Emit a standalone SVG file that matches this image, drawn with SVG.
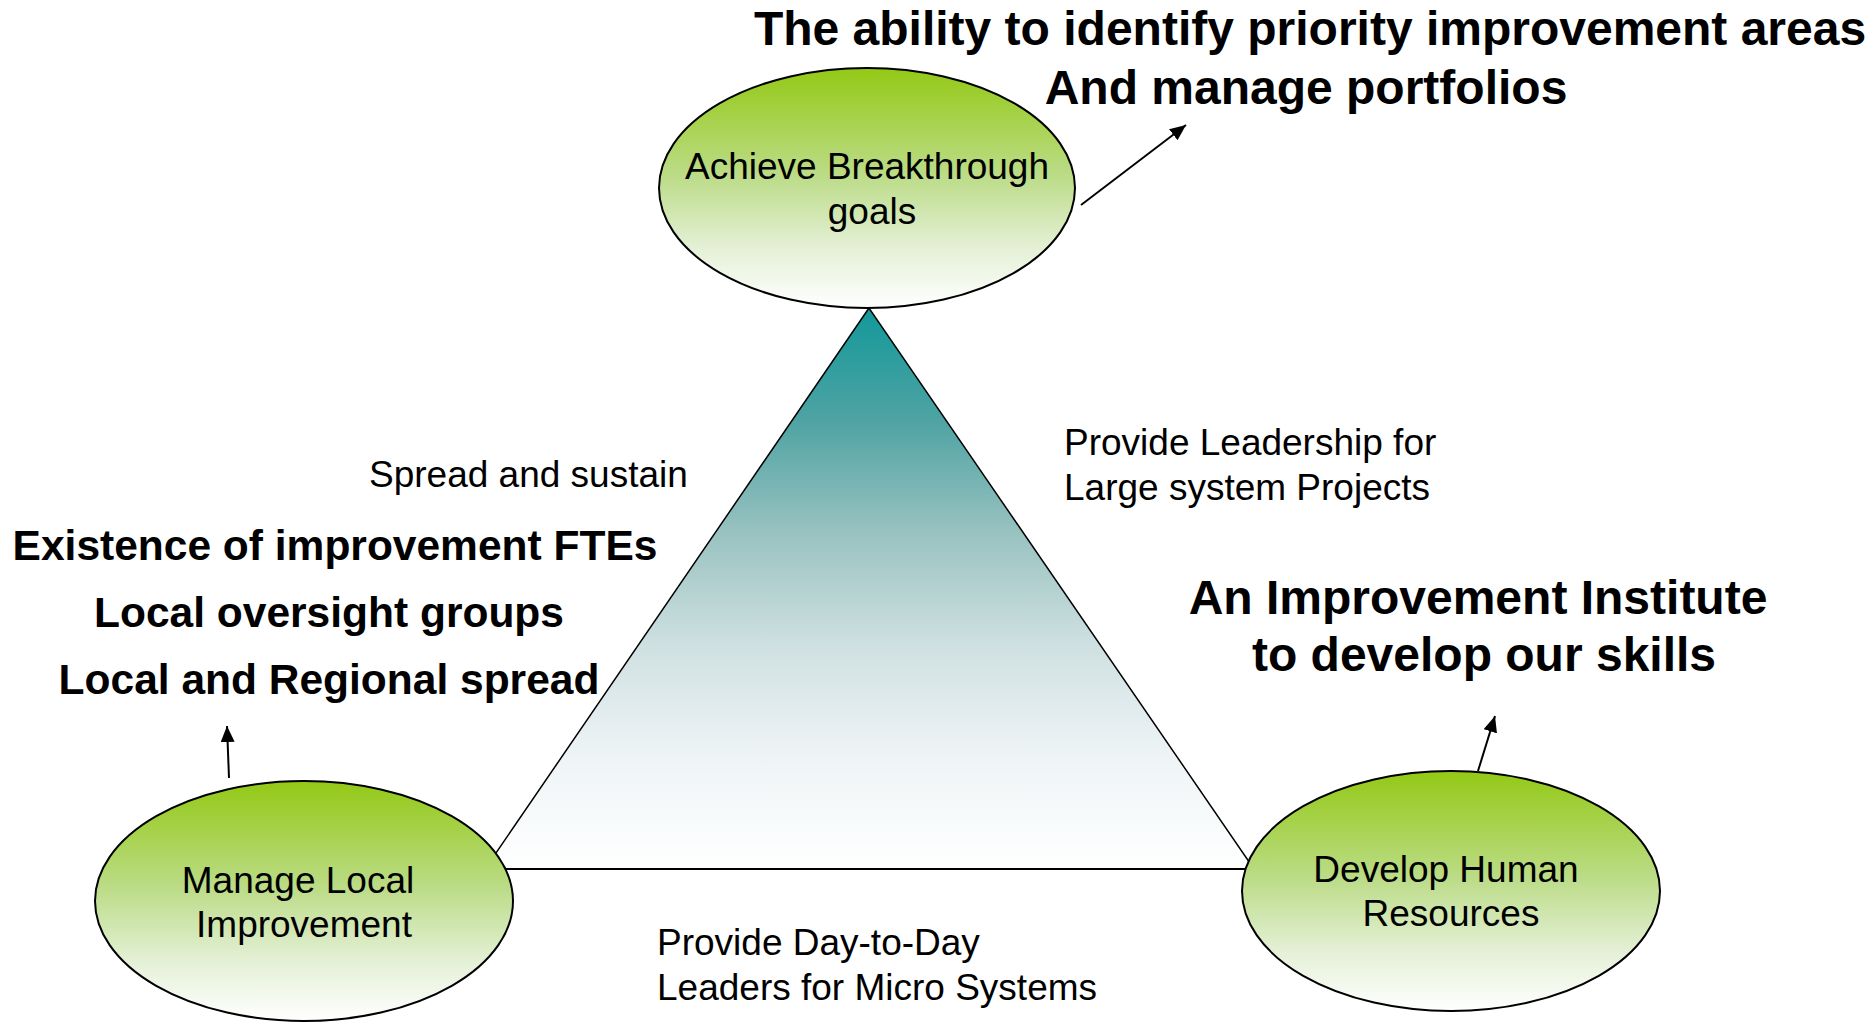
<svg xmlns="http://www.w3.org/2000/svg" width="1875" height="1024" viewBox="0 0 1875 1024">
  <style>
    .node { fill: url(#green); stroke: #000; stroke-width: 2; }
    .label { font-family: "Liberation Sans", Arial, sans-serif; font-size: 37px; fill: #000; }
    .big { font-family: "Liberation Sans", Arial, sans-serif; font-weight: bold; font-size: 48px; fill: #000; }
    .mid { font-family: "Liberation Sans", Arial, sans-serif; font-weight: bold; font-size: 42.5px; fill: #000; }
    .edge { stroke: #000; stroke-width: 2; fill: none; }
    .link { stroke: #000; stroke-width: 2; fill: none; marker-end: url(#head); }
  </style>
  <defs>
    <linearGradient id="green" x1="0" y1="0" x2="0" y2="1">
      <stop offset="0" stop-color="#93c915"/>
      <stop offset="0.45" stop-color="#bcdc88"/>
      <stop offset="0.75" stop-color="#e4f0d6"/>
      <stop offset="1" stop-color="#ffffff"/>
    </linearGradient>
    <linearGradient id="teal" x1="0" y1="0" x2="0" y2="1">
      <stop offset="0" stop-color="#12989a"/>
      <stop offset="0.2" stop-color="#4fa3a3"/>
      <stop offset="0.4" stop-color="#98c2c0"/>
      <stop offset="0.6" stop-color="#cfe0e1"/>
      <stop offset="0.8" stop-color="#eef4f6"/>
      <stop offset="1" stop-color="#ffffff"/>
    </linearGradient>
    <!-- filled arrowhead, tip placed on the line end -->
    <marker id="head" viewBox="0 0 16 14" refX="16" refY="7" markerWidth="16" markerHeight="14" markerUnits="userSpaceOnUse" orient="auto">
      <path d="M0,0 L16,7 L0,14 z" fill="#000"/>
    </marker>
  </defs>

  <!-- central triangle, its base and the outcome arrows -->
  <g id="connectors">
    <polygon points="869,308 485,869 1254,869" fill="url(#teal)" stroke="#000" stroke-width="1.5"/>
    <line class="edge" x1="490" y1="869" x2="1250" y2="869"/>
    <line class="link" x1="1081" y1="205" x2="1186" y2="125"/>
    <line class="link" x1="229" y1="778" x2="227" y2="726"/>
    <line class="link" x1="1478" y1="771" x2="1495" y2="716"/>
  </g>

  <g id="node-breakthrough">
    <ellipse class="node" cx="867" cy="188" rx="208" ry="120"/>
    <text class="label" text-anchor="middle" x="867" y="179">Achieve Breakthrough</text>
    <text class="label" text-anchor="middle" x="872" y="224">goals</text>
  </g>

  <g id="node-local">
    <ellipse class="node" cx="304" cy="901" rx="209" ry="120"/>
    <text class="label" text-anchor="middle" x="298" y="893">Manage Local</text>
    <text class="label" text-anchor="middle" x="304" y="937">Improvement</text>
  </g>

  <g id="node-hr">
    <ellipse class="node" cx="1451" cy="891" rx="209" ry="120"/>
    <text class="label" text-anchor="middle" x="1446" y="882">Develop Human</text>
    <text class="label" text-anchor="middle" x="1451" y="926">Resources</text>
  </g>

  <!-- edge labels -->
  <g id="edge-labels">
    <text class="label" x="369" y="487">Spread and sustain</text>
    <text class="label" x="1064" y="455">Provide Leadership for</text>
    <text class="label" x="1064" y="500">Large system Projects</text>
    <text class="label" x="657" y="955">Provide Day-to-Day</text>
    <text class="label" x="657" y="1000">Leaders for Micro Systems</text>
  </g>

  <!-- outcome statements -->
  <g id="outcomes">
    <text class="big" text-anchor="middle" x="1310" y="45">The ability to identify priority improvement areas</text>
    <text class="big" text-anchor="middle" x="1306" y="104">And manage portfolios</text>
    <text class="big" text-anchor="middle" x="1478" y="614">An Improvement Institute</text>
    <text class="big" text-anchor="middle" x="1484" y="671">to develop our skills</text>
    <text class="mid" text-anchor="middle" x="335" y="560">Existence of improvement FTEs</text>
    <text class="mid" text-anchor="middle" x="329" y="627">Local oversight groups</text>
    <text class="mid" text-anchor="middle" x="329" y="694">Local and Regional spread</text>
  </g>
</svg>
